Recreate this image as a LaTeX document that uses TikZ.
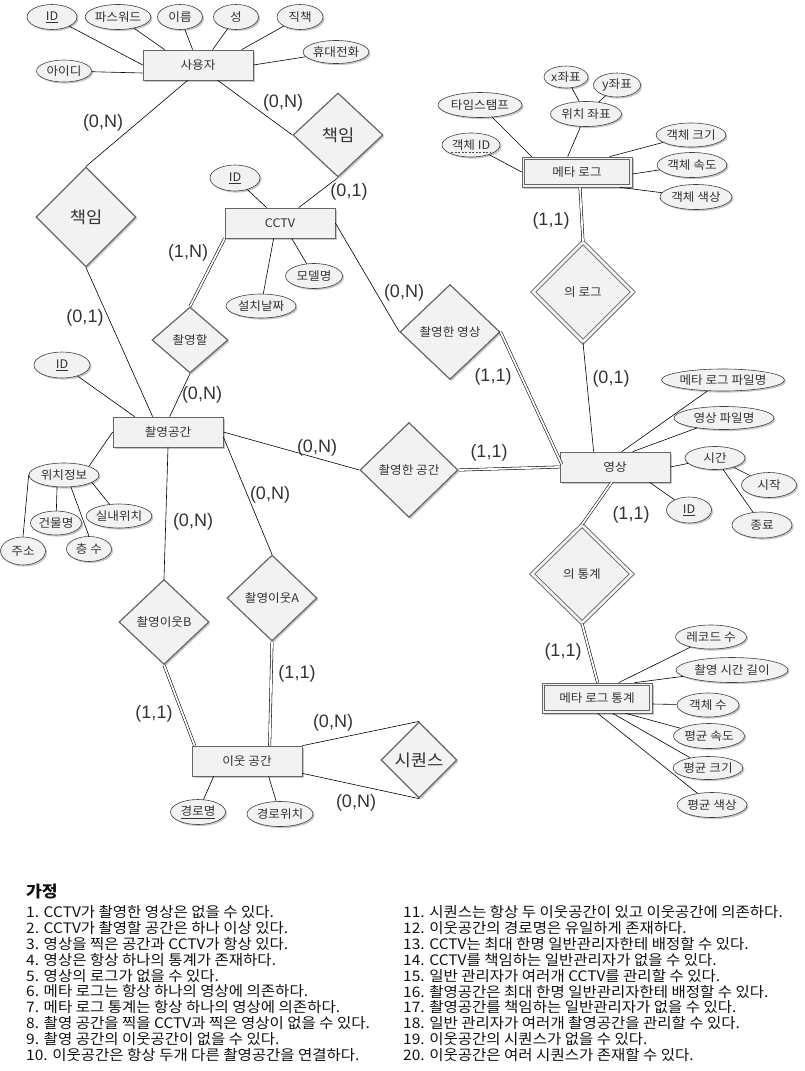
\documentclass[tikz,border=0pt]{standalone}
\usepackage{fontspec}
\setmainfont{Noto Sans CJK KR}[FakeStretch=1.07]
\newfontfamily\notefont{Noto Sans CJK KR}[FakeStretch=1.07]
\newfontfamily\latinfont{Liberation Sans}
\usetikzlibrary{shapes.geometric,shadows,calc}
\definecolor{shapefill}{HTML}{F2F2F2}
\definecolor{shapeline}{HTML}{666666}
\definecolor{textgray}{HTML}{333333}
\definecolor{notetext}{HTML}{111111}

\tikzset{
  base/.style={fill=shapefill, text=textgray, inner sep=0pt,
    font=\fontsize{11.8}{13}\selectfont,
    drop shadow={shadow xshift=1.6pt, shadow yshift=-1.6pt, fill=black, opacity=0.22}},
  entity/.style={base, draw=shapeline, line width=0.7pt, rectangle,
    minimum width=110pt, minimum height=30pt},
  attr/.style={base, draw=black!75, line width=0.6pt, ellipse,
    minimum width=#1, minimum height=25pt},
  attr/.default=50pt,
  rel/.style={base, draw=shapeline, line width=1.2pt, diamond,
    minimum width=#1, minimum height=#1},
  rel/.default=90pt,
  idrel/.style={rel=#1, double=shapefill, double distance=2.6pt, line width=0.9pt},
  inner/.style={draw=shapeline, line width=0.7pt},
  bigtext/.style={font=\fontsize{16.5}{18}\selectfont},
  conn/.style={draw=black, line width=0.6pt},
  dconn/.style={draw=black, double=white, double distance=1.8pt, line width=0.55pt},
  card/.style={font=\latinfont\fontsize{18}{20}\selectfont, text=textgray, inner sep=0pt},
  note/.style={anchor=west, inner sep=0pt, text=notetext,
    font=\notefont\fontsize{14.5}{16}\selectfont},
}

\begin{document}
\begin{tikzpicture}[x=1pt, y=-1pt]
\useasboundingbox (0,0) rectangle (805,1071);

% ---------- 사용자 ----------
\node[entity] (user) at (198,65) {사용자};
\node[attr=50pt] (uid) at (52,17) {\underline{ID}};
\node[attr=57pt] (upw) at (118,17) {파스워드};
\node[attr=45pt] (uname) at (180,17) {이름};
\node[attr=45pt] (usur) at (236,17) {성};
\node[attr=46pt] (upos) at (300,17) {직책};
\node[attr=55pt, minimum height=23pt] (uphone) at (336,52) {휴대전화};
\node[attr=55pt, minimum height=22pt] (ulogin) at (64,71) {아이디};

\draw[conn] (uid) -- (user.west);
\draw[conn] (upw) -- ($(user.north west)+(22,0)$);
\draw[conn] (uname) -- ($(user.north west)+(50,0)$);
\draw[conn] (usur) -- ($(user.north west)+(70,0)$);
\draw[conn] (upos) -- ($(user.north west)+(99,0)$);
\draw[conn] (uphone) -- (user.east);
\draw[conn] (ulogin) -- ($(user.west)+(0,8)$);

% ---------- 책임 relationships ----------
\node[rel=100pt, bigtext] (respspace) at (86,217) {책임};
\node[rel=90pt, minimum height=84pt, bigtext] (respcctv) at (338,135) {책임};

% ---------- CCTV ----------
\node[entity] (cctv) at (280,223) {CCTV};
\node[attr=50pt, minimum height=26pt] (cid) at (235,178) {\underline{ID}};
\node[attr=57pt] (cmodel) at (314,276) {모델명};
\node[attr=70pt, minimum height=24pt] (cdate) at (261,306) {설치날짜};

\draw[conn] ($(user.south west)+(45,0)$) -- (respspace.north);
\draw[conn] ($(user.south west)+(75,0)$) -- (respcctv.west);
\draw[conn] (respcctv.south) -- ($(cctv.north west)+(74,0)$);
\draw[conn] (cid) -- ($(cctv.north west)+(42,0)$);
\draw[conn] ($(cctv.south west)+(49,0)$) -- (cdate);
\draw[conn] ($(cctv.south west)+(67,0)$) -- (cmodel);

% ---------- 촬영공간 ----------
\node[rel=76pt, minimum height=66pt] (willshoot) at (190,340) {촬영할};
\node[entity] (space) at (168,432) {촬영공간};
\node[attr=56pt, minimum height=26pt] (sid) at (62,365) {\underline{ID}};
\node[attr=70pt, minimum height=24pt] (loc) at (64,475) {위치정보};
\node[attr=45pt, minimum height=28pt] (addr) at (23,551) {주소};
\node[attr=51pt, minimum height=24pt] (bldg) at (56,523) {건물명};
\node[attr=45pt] (floor) at (89,549) {층 수};
\node[attr=59pt, minimum height=24pt] (indoor) at (119,516) {실내위치};

\draw[dconn] (cctv.south west) -- (willshoot.north);
\draw[conn] (willshoot.south) -- ($(space.north west)+(57,0)$);
\draw[conn] (respspace.south) -- ($(space.north west)+(40,0)$);
\draw[conn] (sid) -- ($(space.north west)+(22,0)$);
\draw[conn] (loc.north east) -- (space.west);
\draw[conn] (loc.west) -- (addr.north);
\draw[conn] (loc.240) -- (bldg);
\draw[conn] (loc.300) -- (floor.north);
\draw[conn] (loc.345) -- (indoor);

% ---------- 촬영한 영상 / 촬영한 공간 ----------
\node[rel=100pt, minimum height=95pt] (shotvideo) at (450,332) {촬영한 영상};
\node[rel=98pt, minimum height=95pt] (shotspace) at (409,470) {촬영한 공간};

\draw[conn] (cctv.east) -- (shotvideo.west);
\draw[conn] (space.east) -- (shotspace.west);

% ---------- 영상 ----------
\node[entity] (video) at (615,467) {영상};
\node[attr=120pt, minimum height=22pt] (vmeta) at (723,380) {메타 로그 파일명};
\node[attr=100pt, minimum height=23pt] (vfile) at (724,418) {영상 파일명};
\node[attr=60pt, minimum height=23pt] (vtime) at (715,458) {시간};
\node[attr=55pt] (vstart) at (769,485) {시작};
\node[attr=60pt, minimum height=26pt] (vend) at (762,525) {종료};
\node[attr=45pt, minimum height=26pt] (vid) at (689,510) {\underline{ID}};

\draw[dconn] (shotvideo.east) -- ($(video.west)+(2,-3)$);
\draw[dconn] (shotspace.east) -- (video.west);
\draw[conn] (vmeta) -- ($(video.north west)+(62,0)$);
\draw[conn] (vfile) -- ($(video.north west)+(73,0)$);
\draw[conn] (vtime) -- (video.east);
\draw[conn] (vtime) -- (vstart);
\draw[conn] (vtime) -- (vend);
\draw[conn] (vid) -- ($(video.south west)+(90,0)$);

% ---------- 메타 로그 ----------
\node[entity] (mlog) at (577,172) {메타 로그};
\draw[inner] ($(mlog.north west)+(3,3)$) rectangle ($(mlog.south east)+(-3,-3)$);
\node[attr=58pt, minimum height=24pt] (oid) at (471,145) {객체 ID};
\draw[black!70, line width=0.5pt, dash pattern=on 2pt off 1.5pt]
  ($(oid.center)+(-20,7)$) -- ($(oid.center)+(20,7)$);
\node[attr=84pt] (stamp) at (480,105) {타임스탬프};
\node[attr=71pt] (pos) at (586,114) {위치 좌표};
\node[attr=44pt, minimum height=22pt] (posx) at (566,77) {x좌표};
\node[attr=47pt, minimum height=24pt] (posy) at (617,85) {y좌표};
\node[attr=64pt, minimum height=24pt] (osize) at (691,135) {객체 크기};
\node[attr=67pt] (ospeed) at (692,165) {객체 속도};
\node[attr=72pt] (ocolor) at (696,197) {객체 색상};
\node[idrel=100pt] (oflog) at (583,292) {의 로그};

\draw[conn] (oid) -- (mlog.west);
\draw[conn] (stamp) -- ($(mlog.north west)+(10,0)$);
\draw[conn] (pos) -- ($(mlog.north west)+(46,0)$);
\draw[conn] (posx) -- (pos);
\draw[conn] (posy) -- (pos);
\draw[conn] (osize) -- ($(mlog.north west)+(88,0)$);
\draw[conn] (ospeed) -- ($(mlog.east)+(0,2)$);
\draw[conn] (ocolor) -- ($(mlog.south west)+(98,0)$);
\draw[dconn] ($(mlog.south)+(3,0)$) -- (oflog.north);
\draw[conn] (oflog.south) -- ($(video.north west)+(34,0)$);

% ---------- 메타 로그 통계 ----------
\node[idrel=100pt, minimum height=98pt] (ofstat) at (582,574) {의 통계};
\node[entity] (mstat) at (597,698) {메타 로그 통계};
\draw[inner] ($(mstat.north west)+(3,3)$) rectangle ($(mstat.south east)+(-3,-3)$);
\node[attr=71pt, minimum height=24pt] (srec) at (711,637) {레코드 수};
\node[attr=112pt] (slen) at (732,670) {촬영 시간 길이};
\node[attr=62pt, minimum height=24pt] (scount) at (708,705) {객체 수};
\node[attr=71pt] (sspeed) at (709,736) {평균 속도};
\node[attr=67pt, minimum height=23pt] (ssize) at (708,768) {평균 크기};
\node[attr=70pt] (scolor) at (712,805) {평균 색상};

\draw[dconn] ($(video.south west)+(52,0)$) -- (ofstat.north);
\draw[dconn] (ofstat.south) -- ($(mstat.north west)+(56,0)$);
\draw[conn] (srec) -- ($(mstat.north west)+(77,0)$);
\draw[conn] (slen) -- ($(mstat.north west)+(93,0)$);
\draw[conn] (scount) -- ($(mstat.east)+(0,6)$);
\draw[conn] (sspeed) -- ($(mstat.south west)+(84,0)$);
\draw[conn] (ssize) -- ($(mstat.south west)+(71,0)$);
\draw[conn] (scolor) -- ($(mstat.south west)+(56,0)$);

% ---------- 이웃 공간 ----------
\node[rel=90pt, minimum height=85pt] (nbB) at (164,622) {촬영이웃B};
\node[rel=90pt, minimum height=86pt] (nbA) at (272,598) {촬영이웃A};
\node[entity] (nb) at (247,761) {이웃 공간};
\node[rel=76pt, bigtext] (seq) at (419,760) {시퀀스};
\node[attr=55pt] (pname) at (198,812) {\underline{경로명}};
\node[attr=66pt] (ppos) at (280,814) {경로위치};

\draw[conn] (space.south) -- (nbB.north);
\draw[conn] ($(space.east)+(0,5)$) -- (nbA.north);
\draw[dconn] (nbB.south) -- ($(nb.north west)+(3,0)$);
\draw[dconn] (nbA.south) -- ($(nb.north west)+(78,0)$);
\draw[conn] (nb.north east) -- (seq.north);
\draw[conn] ($(nb.south east)+(0,-3)$) -- (seq.south);
\draw[conn] ($(nb.south west)+(22,0)$) -- (pname);
\draw[conn] ($(nb.south west)+(77,0)$) -- (ppos);

% ---------- cardinalities ----------
\node[card] at (103,123) {(0,N)};
\node[card] at (283,103) {(0,N)};
\node[card] at (349,192) {(0,1)};
\node[card] at (188,253) {(1,N)};
\node[card] at (85,318) {(0,1)};
\node[card] at (202,395) {(0,N)};
\node[card] at (404,293) {(0,N)};
\node[card] at (493,377) {(1,1)};
\node[card] at (551,221) {(1,1)};
\node[card] at (611,379) {(0,1)};
\node[card] at (317,448) {(0,N)};
\node[card] at (489,453) {(1,1)};
\node[card] at (270,495) {(0,N)};
\node[card] at (193,522) {(0,N)};
\node[card] at (631,515) {(1,1)};
\node[card] at (563,652) {(1,1)};
\node[card] at (154,714) {(1,1)};
\node[card] at (297,674) {(1,1)};
\node[card] at (333,723) {(0,N)};
\node[card] at (356,803) {(0,N)};

% ---------- assumptions ----------
\node[note, font=\notefont\bfseries\fontsize{16}{18}\selectfont] (title) at (26,892) {가정};
\foreach \t [count=\i] in {
  {1. CCTV가 촬영한 영상은 없을 수 있다.},
  {2. CCTV가 촬영할 공간은 하나 이상 있다.},
  {3. 영상을 찍은 공간과 CCTV가 항상 있다.},
  {4. 영상은 항상 하나의 통계가 존재하다.},
  {5. 영상의 로그가 없을 수 있다.},
  {6. 메타 로그는 항상 하나의 영상에 의존하다.},
  {7. 메타 로그 통계는 항상 하나의 영상에 의존하다.},
  {8. 촬영 공간을 찍을 CCTV과 찍은 영상이 없을 수 있다.},
  {9. 촬영 공간의 이웃공간이 없을 수 있다.},
  {10. 이웃공간은 항상 두개 다른 촬영공간을 연결하다.}}
  \node[note] (left\i) at (26,{912+15.9*(\i-1)}) {\t};
\foreach \t [count=\i] in {
  {11. 시퀀스는 항상 두 이웃공간이 있고 이웃공간에 의존하다.},
  {12. 이웃공간의 경로명은 유일하게 존재하다.},
  {13. CCTV는 최대 한명 일반관리자한테 배정할 수 있다.},
  {14. CCTV를 책임하는 일반관리자가 없을 수 있다.},
  {15. 일반 관리자가 여러개 CCTV를 관리할 수 있다.},
  {16. 촬영공간은 최대 한명 일반관리자한테 배정할 수 있다.},
  {17. 촬영공간를 책임하는 일반관리자가 없을 수 있다.},
  {18. 일반 관리자가 여러개 촬영공간을 관리할 수 있다.},
  {19. 이웃공간의 시퀀스가 없을 수 있다.},
  {20. 이웃공간은 여러 시퀀스가 존재할 수 있다.}}
  \node[note] (right\i) at (403,{912+15.9*(\i-1)}) {\t};
\end{tikzpicture}
\end{document}
